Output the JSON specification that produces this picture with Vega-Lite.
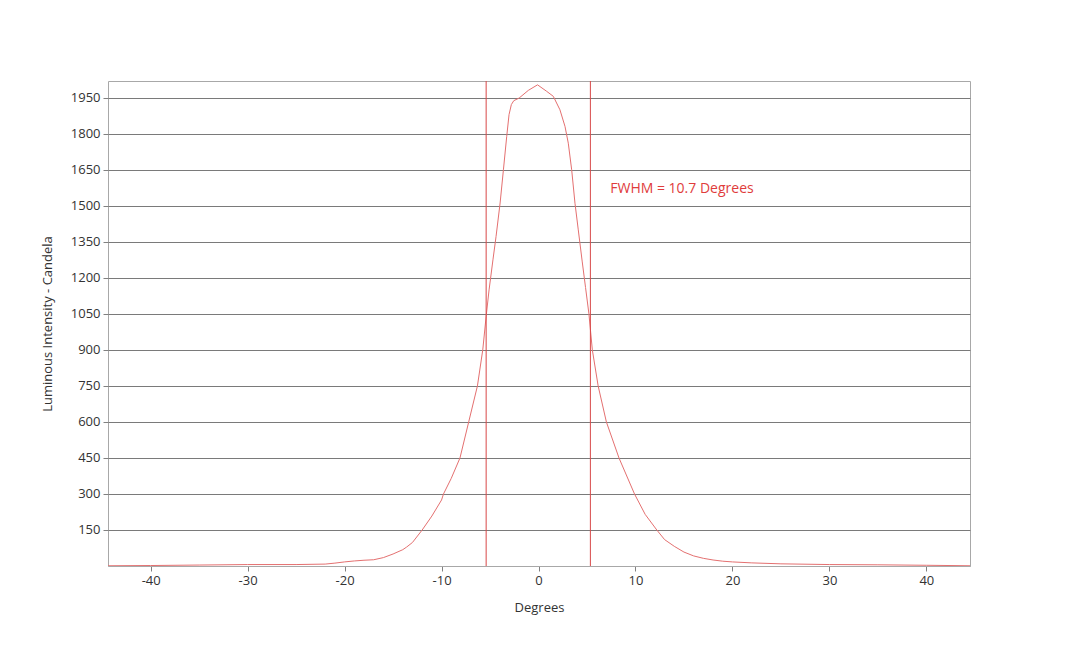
{
  "$schema": "https://vega.github.io/schema/vega-lite/v6.json",
  "width": 862,
  "height": 485,
  "autosize": {"type": "none"},
  "padding": {"left": 108, "top": 81, "right": 110, "bottom": 80},
  "background": "white",
  "config": {
    "font": "Open Sans",
    "view": {"stroke": "#a8a8a8", "strokeWidth": 1},
    "axis": {"labelFont": "Open Sans", "titleFont": "Open Sans", "labelFontSize": 13, "titleFontSize": 13, "titleFontWeight": "normal", "labelColor": "#333333", "titleColor": "#333333"}
  },
  "datasets": {
    "curve": [
      {"deg": -44.4, "cd": 1},
      {"deg": -40, "cd": 2},
      {"deg": -35, "cd": 4},
      {"deg": -30, "cd": 6},
      {"deg": -25, "cd": 6},
      {"deg": -22, "cd": 8},
      {"deg": -21, "cd": 12},
      {"deg": -20, "cd": 17},
      {"deg": -19, "cd": 21},
      {"deg": -18, "cd": 24},
      {"deg": -17, "cd": 26},
      {"deg": -16, "cd": 35},
      {"deg": -15, "cd": 50},
      {"deg": -14, "cd": 68},
      {"deg": -13.6, "cd": 79},
      {"deg": -13, "cd": 98},
      {"deg": -12, "cd": 150},
      {"deg": -11, "cd": 208},
      {"deg": -10, "cd": 275},
      {"deg": -9.8, "cd": 300},
      {"deg": -9, "cd": 365},
      {"deg": -8.1, "cd": 450},
      {"deg": -7.2, "cd": 600},
      {"deg": -6.3, "cd": 750},
      {"deg": -5.75, "cd": 900},
      {"deg": -5.4, "cd": 1040},
      {"deg": -5.1, "cd": 1150},
      {"deg": -4.7, "cd": 1275},
      {"deg": -4.38, "cd": 1372},
      {"deg": -3.96, "cd": 1512},
      {"deg": -3.62, "cd": 1650},
      {"deg": -3.28, "cd": 1789},
      {"deg": -3.04, "cd": 1880},
      {"deg": -2.8, "cd": 1922},
      {"deg": -2.55, "cd": 1938},
      {"deg": -2.0, "cd": 1949},
      {"deg": -1.05, "cd": 1981},
      {"deg": -0.1, "cd": 2004},
      {"deg": 0.84, "cd": 1977},
      {"deg": 1.53, "cd": 1956},
      {"deg": 2.21, "cd": 1900},
      {"deg": 2.73, "cd": 1831},
      {"deg": 3.07, "cd": 1761},
      {"deg": 3.42, "cd": 1650},
      {"deg": 3.76, "cd": 1511},
      {"deg": 4.1, "cd": 1400},
      {"deg": 4.5, "cd": 1270},
      {"deg": 4.85, "cd": 1160},
      {"deg": 5.2, "cd": 1050},
      {"deg": 5.55, "cd": 900},
      {"deg": 6.15, "cd": 750},
      {"deg": 7.0, "cd": 600},
      {"deg": 8.3, "cd": 450},
      {"deg": 9.9, "cd": 300},
      {"deg": 11, "cd": 215},
      {"deg": 12.2, "cd": 150},
      {"deg": 13, "cd": 110},
      {"deg": 14, "cd": 82},
      {"deg": 15, "cd": 58},
      {"deg": 16, "cd": 42},
      {"deg": 17, "cd": 32},
      {"deg": 18, "cd": 25},
      {"deg": 19, "cd": 20},
      {"deg": 20, "cd": 17},
      {"deg": 22, "cd": 13},
      {"deg": 25, "cd": 9},
      {"deg": 30, "cd": 6},
      {"deg": 35, "cd": 5},
      {"deg": 40, "cd": 3},
      {"deg": 44.5, "cd": 1}
    ],
    "fwhm": [
      {"deg": -5.4},
      {"deg": 5.35}
    ],
    "note": [
      {"deg": 7.4, "cd": 1570, "label": "FWHM = 10.7 Degrees"}
    ]
  },
  "layer": [
    {
      "data": {"name": "curve"},
      "mark": {"type": "line", "color": "#e47070", "strokeWidth": 1, "clip": true},
      "encoding": {
        "x": {
          "field": "deg", "type": "quantitative",
          "scale": {"domain": [-44.4, 44.5], "nice": false, "zero": false},
          "axis": {
            "title": "Degrees", "values": [-40, -30, -20, -10, 0, 10, 20, 30, 40],
            "labelExpr": "datum.value + ''",
            "grid": false, "domainColor": "#a8a8a8", "tickColor": "#808080", "tickSize": 5,
            "labelPadding": 3, "titlePadding": 14
          }
        },
        "y": {
          "field": "cd", "type": "quantitative",
          "scale": {"domain": [0, 2020], "nice": false},
          "axis": {
            "title": "Luminous Intensity - Candela",
            "values": [150, 300, 450, 600, 750, 900, 1050, 1200, 1350, 1500, 1650, 1800, 1950],
            "labelExpr": "datum.value + ''",
            "grid": true, "gridColor": "#7a7a7a", "gridOpacity": 1, "gridWidth": 1,
            "domain": false, "tickColor": "#808080", "tickSize": 5, "labelPadding": 3,
            "titlePadding": 16
          }
        }
      }
    },
    {
      "data": {"name": "fwhm"},
      "mark": {"type": "rule", "color": "#d84848", "strokeWidth": 1},
      "encoding": {
        "x": {"field": "deg", "type": "quantitative"}
      }
    },
    {
      "data": {"name": "note"},
      "mark": {"type": "text", "color": "#e03c3c", "align": "left", "baseline": "middle", "fontSize": 14, "font": "Open Sans"},
      "encoding": {
        "x": {"field": "deg", "type": "quantitative"},
        "y": {"field": "cd", "type": "quantitative"},
        "text": {"field": "label"}
      }
    }
  ]
}
